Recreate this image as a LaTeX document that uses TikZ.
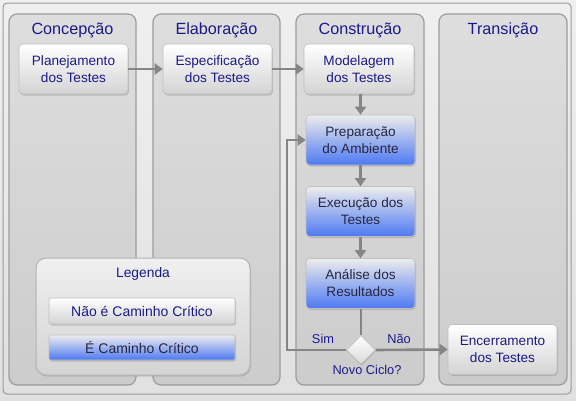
\documentclass[tikz,border=0pt]{standalone}
\usepackage{fontspec}
\setmainfont{Liberation Sans}
\usetikzlibrary{shapes.geometric,arrows.meta,shadows}
\definecolor{navy}{HTML}{1A1A8C}
\definecolor{darktxt}{HTML}{262640}
\definecolor{arrgray}{HTML}{858585}
\definecolor{panelb}{HTML}{9C9C9C}
\definecolor{bluebot}{HTML}{4C78F2}
\tikzset{
  panel/.style={rounded corners=8pt, draw=panelb, line width=1.2pt, top color=black!13, bottom color=black!20},
  ptitle/.style={font=\fontsize{16.2}{19}\selectfont, text=navy},
  wbox/.style={rounded corners=4pt, draw=black!25, line width=0.6pt, top color=white, bottom color=black!17,
    minimum width=109pt, minimum height=50pt, inner sep=0pt, align=center, text=navy,
    font=\fontsize{13.6}{17}\selectfont, drop shadow={opacity=0.35, shadow xshift=1pt, shadow yshift=-1.5pt}},
  bbox/.style={wbox, top color=black!7, bottom color=bluebot, text=darktxt},
  arr/.style={draw=arrgray, line width=2.6pt, -{Triangle[length=8pt,width=11pt]}},
  plain/.style={draw=arrgray, line width=2.6pt},
  lbl/.style={font=\fontsize{12.8}{15}\selectfont, text=navy}
}
\begin{document}
\begin{tikzpicture}[x=1pt,y=1pt]
\useasboundingbox (0,0) rectangle (576,-400);
\fill[top color=black!6, bottom color=black!12] (0,0) rectangle (576,-400);
\draw[rounded corners=4pt, draw=black!40, line width=1pt] (3,-3) rectangle (571,-394);
% panels
\draw[panel] (9,-14) rectangle (136,-385);
\draw[panel] (153,-14) rectangle (280,-385);
\draw[panel] (296,-14) rectangle (424,-385);
\draw[panel] (439,-14) rectangle (567,-385);
\node[ptitle] (t1) at (72.5,-30) {Concepção};
\node[ptitle] (t2) at (216.5,-30) {Elaboração};
\node[ptitle] (t3) at (360,-30) {Construção};
\node[ptitle] (t4) at (503,-30) {Transição};
% boxes
\node[wbox] (plan) at (73.5,-69) {Planejamento\\dos Testes};
\node[wbox] (espe) at (217.5,-69) {Especificação\\dos Testes};
\node[wbox, minimum width=110pt] (mode) at (359,-69) {Modelagem\\dos Testes};
\node[bbox] (prep) at (360.5,-140) {Preparação\\do Ambiente};
\node[bbox] (exec) at (360.5,-211.5) {Execução dos\\Testes};
\node[bbox] (anal) at (360.5,-283.5) {Análise dos\\Resultados};
\node[wbox] (ence) at (502.5,-349.5) {Encerramento\\dos Testes};
% connectors
\coordinate (loopc) at (287,-350);
\draw[arr] (plan) -- (espe);
\draw[arr] (espe) -- (mode);
\draw[arr] (mode.south -| prep.north) -- (prep.north);
\draw[arr] (prep) -- (exec);
\draw[arr] (exec) -- (anal);
\node[diamond, draw=black!30, line width=0.5pt, top color=white, bottom color=black!15, minimum width=29pt, minimum height=29pt, inner sep=0pt, drop shadow={opacity=0.3, shadow xshift=0.8pt, shadow yshift=-1pt}] (dia) at (361,-350) {};
\draw[plain] (anal.south -| dia.north) -- (dia.north);
\draw[arr] (dia.west) -- (loopc) |- (prep.west);
\draw[arr] (dia.east) -- (ence.west);
\node[lbl] (sim) at (323,-339) {Sim};
\node[lbl] (nao) at (399,-339) {Não};
\node[lbl] (novo) at (367,-370) {Novo Ciclo?};
% legend
\node[rounded corners=10pt, draw=black!30, line width=1pt, top color=black!6, bottom color=black!17, minimum width=214pt, minimum height=117pt, drop shadow={opacity=0.3, shadow xshift=1pt, shadow yshift=-1.5pt}] (leg) at (143,-316.5) {};
\node[lbl, font=\fontsize{13.8}{16}\selectfont] (legt) at (143,-274) {Legenda};
\node[wbox, minimum width=186pt, minimum height=26pt, rounded corners=2pt, font=\fontsize{14}{16}\selectfont] (l1) at (142,-311) {Não é Caminho Crítico};
\node[bbox, minimum width=186pt, minimum height=25pt, rounded corners=2pt, font=\fontsize{14}{16}\selectfont] (l2) at (142,-347.5) {É Caminho Crítico};
\end{tikzpicture}
\end{document}
